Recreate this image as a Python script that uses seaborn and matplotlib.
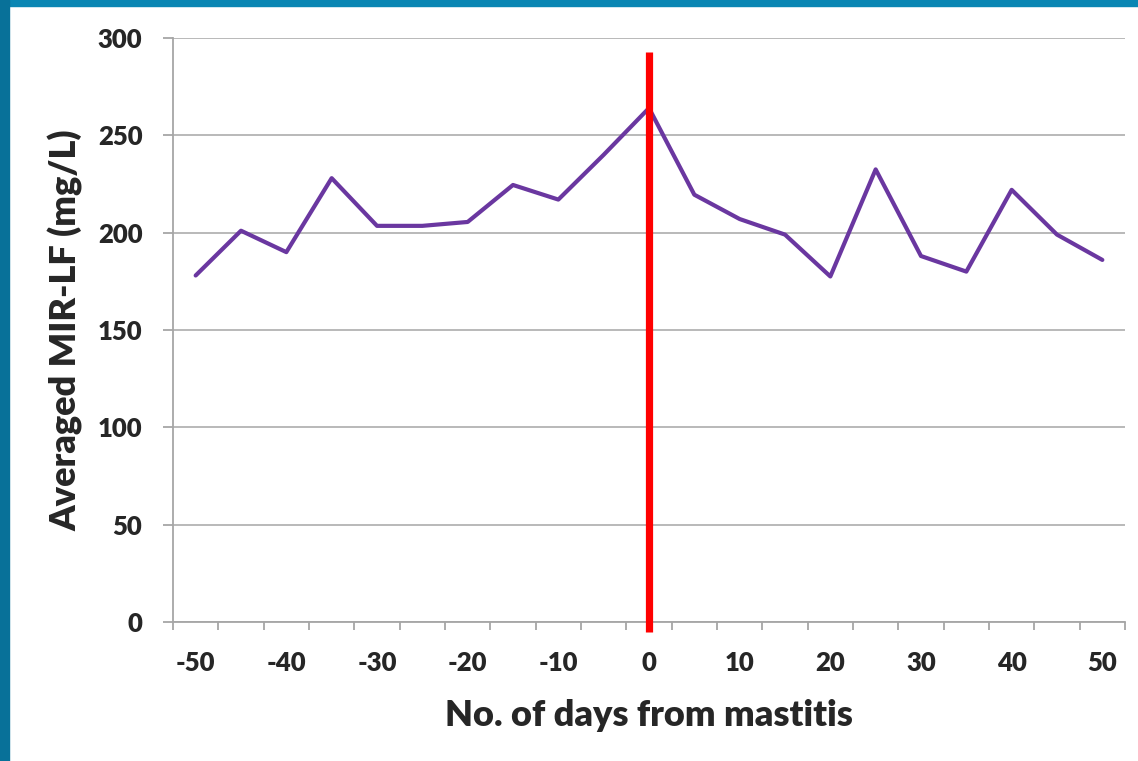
import numpy as np
import pandas as pd
import matplotlib
matplotlib.use("Agg")
import matplotlib.pyplot as plt
from matplotlib.patches import Rectangle
from matplotlib.ticker import FixedLocator
import seaborn as sns

# ---- data ----
days = [-50, -45, -40, -35, -30, -25, -20, -15, -10, -5, 0,
        5, 10, 15, 20, 25, 30, 35, 40, 45, 50]
mir_lf = [178, 201, 190, 228, 203.5, 203.5, 205.5, 224.5, 217, 240, 264,
          219.5, 207, 199, 177.5, 232.5, 188, 180, 222, 199, 186]
event_day = 0
x_tick_labels = [-50, -40, -30, -20, -10, 0, 10, 20, 30, 40, 50]
y_ticks = [0, 50, 100, 150, 200, 250, 300]

df = pd.DataFrame({"day": days, "value": mir_lf})

sns.set_style("white")
plt.rcParams["font.family"] = ["Lato", "DejaVu Sans"]
plt.rcParams["font.weight"] = "bold"

fig = plt.figure(figsize=(11.38, 7.61), dpi=100)
ax = fig.add_axes([173 / 1138, 1 - 622 / 761, (1125 - 173) / 1138, (622 - 38) / 761])

for y in y_ticks:
    ax.axhline(y, color="#b3b3b3", lw=1.3, zorder=0)

sns.lineplot(data=df, x="day", y="value", ax=ax, color="#6a37a0", lw=3.0,
             zorder=3, legend=False)

ax.plot([event_day, event_day], [-5, 293], color="#ff0000", lw=5.2,
        solid_capstyle="butt", zorder=4, clip_on=False)

ax.set_xlim(-52.5, 52.5)
ax.set_ylim(0, 300)
ax.xaxis.set_major_locator(FixedLocator(x_tick_labels))
ax.set_xticklabels([str(v) for v in x_tick_labels])
ax.xaxis.set_minor_locator(FixedLocator(np.arange(-52.5, 53, 5)))
ax.set_yticks(y_ticks)
ax.set_yticklabels([str(v) for v in y_ticks])

for lab in ax.get_xticklabels() + ax.get_yticklabels():
    lab.set_fontweight("heavy")

ax.tick_params(axis="x", which="major", length=0, pad=21, labelsize=18.5)
ax.tick_params(axis="x", which="minor", length=6, width=1.3, color="#a6a6a6",
               direction="out", bottom=True)
ax.tick_params(axis="y", which="major", length=7, width=1.3, color="#a6a6a6",
               direction="out", pad=15, labelsize=18.5, left=True)

for side in ["top", "right"]:
    ax.spines[side].set_visible(False)
for side in ["left", "bottom"]:
    ax.spines[side].set_color("#a6a6a6")
    ax.spines[side].set_linewidth(1.3)

ax.set_xlabel("No. of days from mastitis", fontsize=26, fontweight="heavy",
              labelpad=17)
ax.set_ylabel("Averaged MIR-LF (mg/L)", fontsize=26, fontweight="heavy",
              labelpad=10)

# frame bands (top and left)
fig.patches.append(Rectangle((0, 1 - 6 / 761), 1, 6 / 761, transform=fig.transFigure,
                             color="#0a86b3", zorder=10))
fig.patches.append(Rectangle((0, 0), 9 / 1138, 1, transform=fig.transFigure,
                             color="#087199", zorder=10))

fig.savefig("out.png", dpi=100, facecolor="white")
